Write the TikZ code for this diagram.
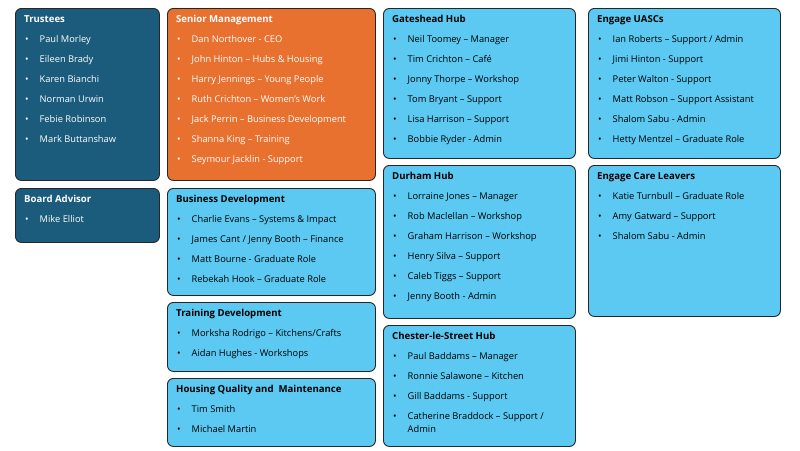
\documentclass[tikz,border=0pt]{standalone}
\usepackage{fontspec}
\setmainfont{Open Sans}
\definecolor{teal}{HTML}{1B5C7D}
\definecolor{orng}{HTML}{E8712F}
\definecolor{lblue}{HTML}{5BC9F2}
\tikzset{
 panel/.style={draw=black!85, line width=0.9pt, rounded corners=6pt, anchor=north west, inner sep=0pt},
 darkp/.style={panel, fill=teal},
 orngp/.style={panel, fill=orng},
 bluep/.style={panel, fill=lblue},
 ttl/.style={anchor=base west, font=\fontsize{9.6}{11}\selectfont\bfseries, inner sep=0pt},
 itm/.style={anchor=base west, font=\fontsize{9.3}{12.5}\selectfont, inner sep=0pt, align=left},
}
\newcommand\orgbox[8]{%
 \node[#6, minimum width=#4pt-#2pt, minimum height=#5pt-#3pt] (#1) at (#2,#3) {};
 \node[ttl, text=#7] (#1-t) at (#2+9,#3+14) {#8};
}
\newcommand\orgitems[5]{%
 \foreach \t [count=\i] in {#5} {
  \node[itm, text=#4] (#1-b\i) at (#2+10,#3+14.5+20*\i) {•};
  \node[itm, text=#4] (#1-\i) at (#2+24.5,#3+14.5+20*\i) {\t};
 }
}
\begin{document}
\begin{tikzpicture}[x=1pt,y=-1pt]
\useasboundingbox (0,0) rectangle (800,450);
\orgbox{tr}{15}{8}{159}{180}{darkp}{white}{Trustees}
\orgitems{tr}{15}{8}{white}{Paul Morley,Eileen Brady,Karen Bianchi,Norman Urwin,Febie Robinson,Mark Buttanshaw}
\orgbox{ba}{15}{188}{159}{242}{darkp}{white}{Board Advisor}
\orgitems{ba}{15}{188}{white}{Mike Elliot}
\orgbox{sm}{167}{8}{375}{180}{orngp}{white}{Senior Management}
\orgitems{sm}{167}{8}{white}{Dan Northover - CEO,John Hinton – Hubs \& Housing,Harry Jennings – Young People,Ruth Crichton – Women’s Work,Jack Perrin – Business Development,Shanna King – Training,Seymour Jacklin - Support}
\orgbox{bd}{167}{188}{375}{295}{bluep}{black}{Business Development}
\orgitems{bd}{167}{188}{black}{Charlie Evans – Systems \& Impact,James Cant / Jenny Booth – Finance,Matt Bourne - Graduate Role,Rebekah Hook – Graduate Role}
\orgbox{td}{167}{302}{375}{371}{bluep}{black}{Training Development}
\orgitems{td}{167}{302}{black}{Morksha Rodrigo – Kitchens/Crafts,Aidan Hughes - Workshops}
\orgbox{hq}{167}{378}{375}{446}{bluep}{black}{Housing Quality and\ \ Maintenance}
\orgitems{hq}{167}{378}{black}{Tim Smith,Michael Martin}
\orgbox{gh}{383}{8}{575}{158}{bluep}{black}{Gateshead Hub}
\orgitems{gh}{383}{8}{black}{Neil Toomey – Manager,Tim Crichton – Café,Jonny Thorpe – Workshop,Tom Bryant – Support,Lisa Harrison – Support,Bobbie Ryder - Admin}
\orgbox{dh}{383}{165}{575}{318}{bluep}{black}{Durham Hub}
\orgitems{dh}{383}{165}{black}{Lorraine Jones – Manager,Rob Maclellan – Workshop,Graham Harrison – Workshop,Henry Silva – Support,Caleb Tiggs – Support,Jenny Booth - Admin}
\orgbox{cs}{383}{325}{575}{446}{bluep}{black}{Chester-le-Street Hub}
\orgitems{cs}{383}{325}{black}{Paul Baddams – Manager,Ronnie Salawone – Kitchen,Gill Baddams - Support,Catherine Braddock – Support /}
\node[itm] (cs-4b) at (383+24.5,325+14.5+80+13) {Admin};
\orgbox{eu}{588}{8}{780}{158}{bluep}{black}{Engage UASCs}
\orgitems{eu}{588}{8}{black}{Ian Roberts – Support / Admin,Jimi Hinton - Support,Peter Walton - Support,Matt Robson – Support Assistant,Shalom Sabu - Admin,Hetty Mentzel – Graduate Role}
\orgbox{ec}{588}{165}{780}{316}{bluep}{black}{Engage Care Leavers}
\orgitems{ec}{588}{165}{black}{Katie Turnbull – Graduate Role,Amy Gatward – Support,Shalom Sabu - Admin}
\end{tikzpicture}
\end{document}
